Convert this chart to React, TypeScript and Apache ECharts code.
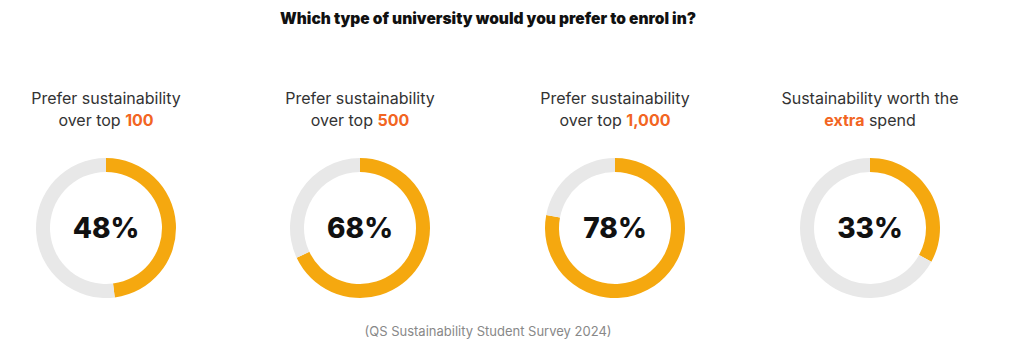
import React, { useEffect, useRef } from "react";
import * as echarts from "echarts";

const mainTitle = "Which type of university would you prefer to enrol in?";
const source = "(QS Sustainability Student Survey 2024)";
const values = [48, 68, 78, 33];
const titleLine1 = [
  "Prefer sustainability",
  "Prefer sustainability",
  "Prefer sustainability",
  "Sustainability worth the",
];
const titlePrefix = ["over top ", "over top ", "over top ", ""];
const titleHighlight = ["100", "500", "1,000", "extra"];
const titleSuffix = ["", "", "", " spend"];

const centersX = [106, 360, 615, 870];
const centerY = 228;
const FONT = "Inter, 'Noto Sans', sans-serif";

export default function App() {
  const ref = useRef<HTMLDivElement>(null);
  useEffect(() => {
    document.body.style.margin = "0";
    const chart = echarts.init(ref.current!, undefined, { renderer: "svg" });
    const series = values.map((v, i) => ({
      type: "pie",
      center: [centersX[i], centerY],
      radius: [56, 70],
      startAngle: 90,
      clockwise: true,
      silent: true,
      labelLine: { show: false },
      label: { show: false },
      data: [
        {
          value: v,
          itemStyle: { color: "#F5A80F" },
          label: {
            show: true,
            position: "center",
            formatter: `${v}%`,
            fontFamily: FONT,
            fontSize: 28,
            fontWeight: 800,
            color: "#111111",
          },
        },
        { value: 100 - v, itemStyle: { color: "#E8E8E8" }, label: { show: false } },
      ],
    }));
    const graphics: any[] = values.map((_, i) => ({
      type: "text",
      x: centersX[i],
      y: 87,
      style: {
        text: `${titleLine1[i]}\n${titlePrefix[i]}{h|${titleHighlight[i]}}${titleSuffix[i]}`,
        align: "center",
        verticalAlign: "top",
        fontFamily: FONT,
        fontSize: 16,
        lineHeight: 22,
        fill: "#333333",
        rich: {
          h: {
            fontFamily: FONT,
            fontSize: 16,
            fontWeight: 700,
            lineHeight: 22,
            fill: "#F26522",
            color: "#F26522",
          },
        },
      },
    }));
    graphics.push(
      {
        type: "text",
        x: 488,
        y: 18,
        style: {
          text: mainTitle,
          align: "center",
          verticalAlign: "middle",
          fontFamily: FONT,
          fontSize: 15.5,
          fontWeight: 900,
          fill: "#111111",
        },
      },
      {
        type: "text",
        x: 488,
        y: 331,
        style: {
          text: source,
          align: "center",
          verticalAlign: "middle",
          fontFamily: FONT,
          fontSize: 13,
          fontWeight: 400,
          fill: "#888888",
        },
      }
    );
    chart.setOption({
      animation: false,
      graphic: graphics,
      series,
    });
    return () => chart.dispose();
  }, []);
  return <div ref={ref} style={{ width: 1024, height: 354 }} />;
}
